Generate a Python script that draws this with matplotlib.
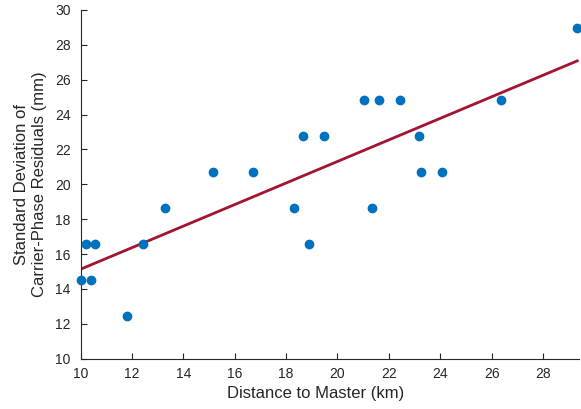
import numpy as np
import matplotlib
matplotlib.use("Agg")
import matplotlib.pyplot as plt

# station distance to master (km) and std of residuals (mm)
distance = [10.01, 10.20, 10.42, 10.55, 11.81, 12.44, 13.30, 15.14, 16.72,
            18.30, 18.65, 18.90, 19.49, 21.02, 21.33, 21.63, 22.42, 23.17,
            23.25, 24.08, 26.36, 29.33]
std_res = [14.50, 16.56, 14.50, 16.56, 12.43, 16.56, 18.63, 20.69, 20.69,
           18.63, 22.78, 16.56, 22.78, 24.84, 18.63, 24.84, 24.84, 22.78,
           20.69, 20.69, 24.84, 28.96]

# linear fit end points
fit_x = [10.0, 29.33]
fit_y = [15.13, 27.08]

xticks = [10, 12, 14, 16, 18, 20, 22, 24, 26, 28]
yticks = [10, 12, 14, 16, 18, 20, 22, 24, 26, 28, 30]

plt.rcParams['font.family'] = ['Liberation Sans', 'DejaVu Sans']
axcol = '#262626'

fig = plt.figure(figsize=(5.81, 4.09), dpi=100)
ax = fig.add_axes([0.1386, 0.123, 0.858, 0.8526])

ax.plot(distance, std_res, 'o', color='#0072BD', markersize=6, clip_on=False, zorder=3)
ax.plot(fit_x, fit_y, '-', color='#A2142F', linewidth=2, zorder=2)

ax.set_xlim(10, 29.4)
ax.set_ylim(10, 30)
ax.set_xticks(xticks)
ax.set_yticks(yticks)
ax.tick_params(direction='in', length=4, width=0.8, colors=axcol, labelsize=10)
ax.tick_params(axis='x', pad=6)
ax.tick_params(axis='y', pad=7)
for s in ['top', 'right']:
    ax.spines[s].set_visible(False)
for s in ['left', 'bottom']:
    ax.spines[s].set_color(axcol)
    ax.spines[s].set_linewidth(0.8)

ax.set_xlabel('Distance to Master (km)', fontsize=12, color=axcol)
ax.set_ylabel('Standard Deviation of\nCarrier-Phase Residuals (mm)', fontsize=12,
              color=axcol)
ax.xaxis.set_label_coords(0.472, -0.078)
ax.yaxis.set_label_coords(-0.068, 0.5)

fig.savefig('out.png', dpi=100)
